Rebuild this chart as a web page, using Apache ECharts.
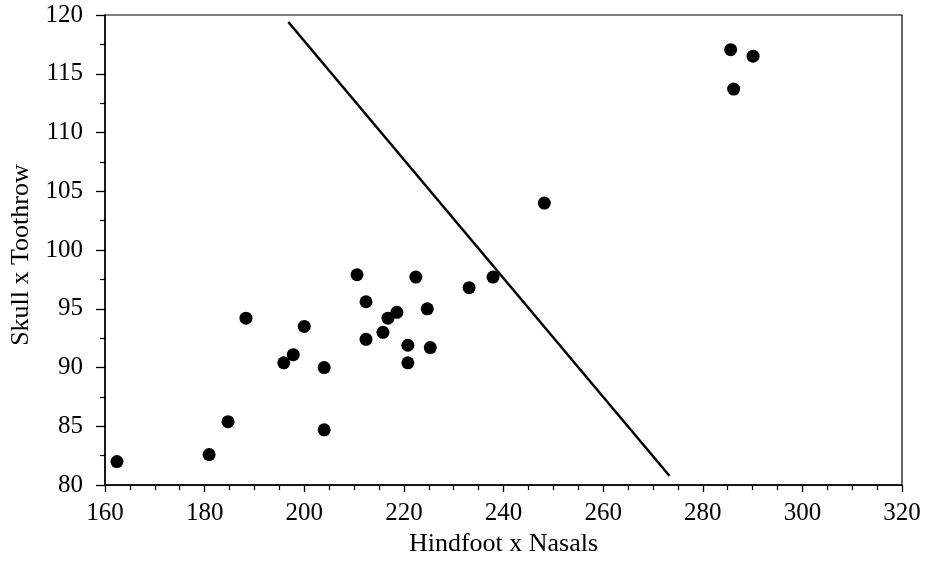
<!DOCTYPE html>
<html>
<head>
<meta charset="utf-8">
<script src="https://cdn.jsdelivr.net/npm/echarts@6/dist/echarts.min.js"></script>
<style>html,body{margin:0;padding:0;background:#fff}#c{width:927px;height:562px}</style>
</head>
<body>
<div id="c"></div>
<script>
const hindfootNasals = [162.4, 180.9, 184.7, 188.3, 195.9, 197.8, 200.0, 204.0, 204.0, 210.6, 212.4, 212.4, 215.8, 216.8, 218.6, 220.8, 220.8, 222.4, 224.7, 225.3, 233.1, 237.9, 248.2, 285.6, 290.1, 286.2];
const skullToothrow = [82.0, 82.6, 85.4, 94.2, 90.4, 91.1, 93.5, 90.0, 84.7, 97.9, 95.6, 92.4, 93.0, 94.2, 94.7, 91.9, 90.4, 97.7, 95.0, 91.7, 96.8, 97.7, 104.0, 117.05, 116.5, 113.7];
const lineX = [196.8, 273.3];
const lineY = [119.4, 80.8];
const xTicks = [160, 180, 200, 220, 240, 260, 280, 300, 320];
const yTicks = [80, 85, 90, 95, 100, 105, 110, 115, 120];

const font = 'Liberation Serif';
const chart = echarts.init(document.getElementById('c'), null, {renderer: 'canvas'});
chart.setOption({
  animation: false,
  backgroundColor: '#fff',
  grid: {left: 105, right: 25, top: 15, bottom: 72, show: true, borderColor: '#000', borderWidth: 1.2, backgroundColor: 'transparent'},
  xAxis: {
    type: 'value', min: xTicks[0], max: xTicks[xTicks.length - 1], interval: 20,
    name: 'Hindfoot x Nasals', nameLocation: 'middle', nameGap: 42,
    nameTextStyle: {fontFamily: font, fontSize: 26, color: '#000'},
    axisLine: {lineStyle: {color: '#000', width: 1.5}},
    axisTick: {show: true, inside: false, length: 7, lineStyle: {color: '#000', width: 1.3}},
    minorTick: {show: true, splitNumber: 4, length: 5, lineStyle: {color: '#000', width: 1.2}},
    axisLabel: {fontFamily: font, fontSize: 25, color: '#000', margin: 16},
    splitLine: {show: false}
  },
  yAxis: {
    type: 'value', min: yTicks[0], max: yTicks[yTicks.length - 1], interval: 5,
    name: 'Skull x Toothrow', nameLocation: 'middle', nameGap: 70,
    nameTextStyle: {fontFamily: font, fontSize: 26, color: '#000', padding: [0, 10, 0, 0]},
    axisLine: {lineStyle: {color: '#000', width: 1.5}},
    axisTick: {show: true, inside: false, length: 9, lineStyle: {color: '#000', width: 1.3}},
    minorTick: {show: true, splitNumber: 2, length: 5, lineStyle: {color: '#000', width: 1.2}},
    axisLabel: {fontFamily: font, fontSize: 25, color: '#000', margin: 22},
    splitLine: {show: false}
  },
  series: [
    {
      type: 'scatter',
      symbol: 'circle', symbolSize: 13,
      itemStyle: {color: '#000', opacity: 1},
      data: hindfootNasals.map((x, i) => [x, skullToothrow[i]])
    },
    {
      type: 'line',
      symbol: 'none',
      lineStyle: {color: '#000', width: 2.5},
      data: lineX.map((x, i) => [x, lineY[i]])
    }
  ]
});
</script>
</body>
</html>
